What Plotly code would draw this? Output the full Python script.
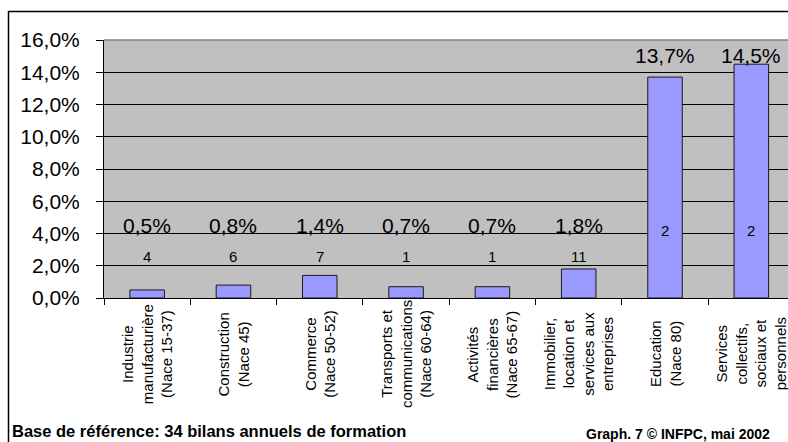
import plotly.graph_objects as go

# Secteurs d'activité (libellés sur plusieurs lignes)
categories = [
    "Industrie<br>manufacturière<br>(Nace 15-37)",
    "Construction<br>(Nace 45)",
    "Commerce<br>(Nace 50-52)",
    "Transports et<br>communications<br>(Nace 60-64)",
    "Activités<br>financières<br>(Nace 65-67)",
    "Immobilier,<br>location et<br>services aux<br>entreprises",
    "Education<br>(Nace 80)",
    "Services<br>collectifs,<br>sociaux et<br>personnels",
]
# Part (en %) par secteur
shares = [0.5, 0.8, 1.4, 0.7, 0.7, 1.8, 13.7, 14.5]
# Nombre de bilans annuels par secteur
bilans = [4, 6, 7, 1, 1, 11, 2, 2]
y_ticks = [0, 2, 4, 6, 8, 10, 12, 14, 16]

W, H = 788, 442
L, R, T, B = 104, 0, 40, 144
PW, PH = W - L - R, H - T - B


def px_x(px):
    return (px - L) / PW


def px_y(py):
    return (H - B - py) / PH


FONT = "Liberation Sans, Arial, sans-serif"

fig = go.Figure()
fig.add_trace(go.Bar(
    x=categories,
    y=shares,
    width=0.4,
    marker=dict(color="#9999FF", line=dict(color="#1a1a1a", width=1)),
    hoverinfo="skip",
))

annotations = []
for cat, v, n in zip(categories, shares, bilans):
    big = v > 10
    annotations.append(dict(
        x=cat, y=15.05 if big else 4.5, xref="x", yref="y",
        text=f"{v:.1f}%".replace(".", ","), showarrow=False,
        font=dict(family=FONT, size=21, color="black"),
        xanchor="center", yanchor="middle",
    ))
    annotations.append(dict(
        x=cat, y=4.2 if big else 2.6, xref="x", yref="y",
        text=str(n), showarrow=False,
        font=dict(family=FONT, size=15, color="black"),
        xanchor="center", yanchor="middle",
    ))
    annotations.append(dict(
        x=cat, y=px_y(354), xref="x", yref="paper",
        text=cat, showarrow=False, textangle=-90, align="center",
        font=dict(family=FONT, size=15, color="black"),
        xanchor="center", yanchor="middle",
    ))

annotations.append(dict(
    x=px_x(10), y=px_y(431), xref="paper", yref="paper",
    text="<b>Base de référence: 34 bilans annuels de formation</b>",
    showarrow=False, xanchor="left", yanchor="middle",
    font=dict(family=FONT, size=16.5, color="black"),
))
annotations.append(dict(
    x=px_x(584), y=px_y(434), xref="paper", yref="paper",
    text="<b>Graph. 7 © INFPC, mai 2002</b>",
    showarrow=False, xanchor="left", yanchor="middle",
    font=dict(family=FONT, size=14, color="black"),
))

shapes = [
    # cadre extérieur
    dict(type="line", xref="paper", yref="paper",
         x0=px_x(8.5), x1=px_x(800), y0=px_y(11.5), y1=px_y(11.5),
         line=dict(color="black", width=1.5)),
    dict(type="line", xref="paper", yref="paper",
         x0=px_x(8.5), x1=px_x(8.5), y0=px_y(11), y1=px_y(460),
         line=dict(color="black", width=1.5)),
    # bord supérieur de la zone de tracé
    dict(type="line", xref="paper", yref="paper",
         x0=0, x1=1, y0=1, y1=1,
         line=dict(color="#808080", width=1.5)),
]

fig.update_layout(
    width=W, height=H,
    margin=dict(l=L, r=R, t=T, b=B),
    paper_bgcolor="white",
    plot_bgcolor="#C0C0C0",
    showlegend=False,
    separators=", ",
    font=dict(family=FONT, color="black"),
    annotations=annotations,
    shapes=shapes,
    bargap=0.6,
)
fig.update_xaxes(
    type="category",
    range=[-0.5, 7.425],
    showticklabels=False,
    tickson="boundaries",
    ticks="outside", ticklen=6, tickcolor="black", tickwidth=1,
    showline=True, linecolor="black", linewidth=1,
    showgrid=False, zeroline=False,
)
fig.update_yaxes(
    range=[0, 16],
    tickvals=y_ticks,
    ticktext=[f"{t:.1f}%".replace(".", ",") for t in y_ticks],
    ticks="outside", ticklen=7, tickcolor="black", tickwidth=1,
    ticklabelstandoff=12,
    tickfont=dict(family=FONT, size=21, color="black"),
    showline=True, linecolor="black", linewidth=1,
    showgrid=True, gridcolor="black", gridwidth=1,
    zeroline=False,
)

fig.write_html("out.html")
